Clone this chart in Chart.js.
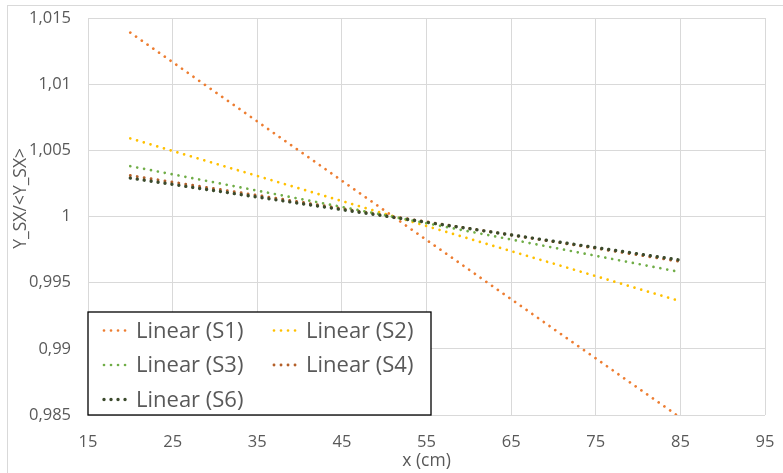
<!DOCTYPE html>
<html>
<head>
<meta charset="utf-8">
<script src="https://cdn.jsdelivr.net/npm/chart.js@4/dist/chart.umd.min.js"></script>
<style>
  html, body { margin: 0; padding: 0; background: #ffffff; }
  #frame { position: absolute; left: 7px; top: 5px; width: 900px; height: 600px;
           border-left: 1px solid #d9d9d9; border-top: 1px solid #d9d9d9; }
  #chart { position: absolute; left: 0; top: 0; }
</style>
</head>
<body>
<div id="frame"></div>
<canvas id="chart" width="783" height="473"></canvas>
<script>
// Linear trend lines of Y_SX/<Y_SX> against position x (cm), one per sensor
const xPoints = [20, 85];
const trendS1 = [1.0139, 0.9848];
const trendS2 = [1.0059, 0.9936];
const trendS3 = [1.0038, 0.9958];
const trendS4 = [1.0031, 0.9966];
const trendS6 = [1.0029, 0.9967];

const seriesNames = ['Linear (S1)', 'Linear (S2)', 'Linear (S3)', 'Linear (S4)', 'Linear (S6)'];
const seriesValues = [trendS1, trendS2, trendS3, trendS4, trendS6];
const seriesColors = ['#ed7d31', '#ffc000', '#70ad47', '#b4602a', '#3b4a2c'];
const seriesWidths = [2.7, 2.7, 2.7, 2.9, 3.4];
const seriesOrder = [3, 4, 1, 2, 0]; // lower order is painted on top

const xTicks = [15, 25, 35, 45, 55, 65, 75, 85, 95];
const yTicks = [0.985, 0.99, 0.995, 1, 1.005, 1.01, 1.015];

const fmt = v => String(Number(v.toFixed(3))).replace('.', ',');
const DOT_DASH = [0.01, 7];

const datasets = seriesNames.map((name, i) => ({
  label: name,
  data: xPoints.map((x, j) => ({ x: x, y: seriesValues[i][j] })),
  showLine: true,
  borderColor: seriesColors[i],
  backgroundColor: seriesColors[i],
  borderWidth: seriesWidths[i],
  borderDash: DOT_DASH,
  borderCapStyle: 'round',
  pointRadius: 0,
  order: seriesOrder[i]
}));

// Boxed legend sitting in the lower-left corner of the plot area
const boxedLegend = {
  id: 'boxedLegend',
  afterDraw(chart) {
    const ctx = chart.ctx;
    const area = chart.chartArea;
    const w = 343, h = 103;
    const left = area.left, top = area.bottom - h;
    ctx.save();
    ctx.fillStyle = '#ffffff';
    ctx.fillRect(left, top, w, h);
    ctx.strokeStyle = '#000000';
    ctx.lineWidth = 1.3;
    ctx.strokeRect(left, top, w, h);
    ctx.font = "22px 'Open Sans'";
    ctx.textBaseline = 'middle';
    chart.data.datasets.forEach((ds, i) => {
      const col = i % 2, row = Math.floor(i / 2);
      const sx = left + 15 + col * 170;
      const sy = top + 18.5 + row * 34.5;
      ctx.beginPath();
      ctx.setLineDash(ds.borderDash);
      ctx.lineCap = 'round';
      ctx.lineWidth = ds.borderWidth;
      ctx.strokeStyle = ds.borderColor;
      ctx.moveTo(sx + 1, sy);
      ctx.lineTo(sx + 27, sy);
      ctx.stroke();
      ctx.setLineDash([]);
      ctx.fillStyle = '#595959';
      ctx.fillText(ds.label, sx + 33, sy + 1);
    });
    ctx.restore();
  }
};

Chart.defaults.font.family = "'Open Sans'";
Chart.defaults.color = '#595959';

new Chart(document.getElementById('chart'), {
  type: 'scatter',
  data: { datasets: datasets },
  options: {
    responsive: false,
    devicePixelRatio: 1,
    animation: false,
    layout: { padding: { left: 0, top: 18, right: 18, bottom: 0 } },
    plugins: { legend: { display: false }, tooltip: { enabled: false } },
    scales: {
      x: {
        type: 'linear',
        min: xTicks[0],
        max: xTicks[xTicks.length - 1],
        afterBuildTicks: s => { s.ticks = xTicks.map(v => ({ value: v })); },
        afterFit: s => { s.height = 58; s.paddingLeft = 0; s.paddingRight = 0; },
        ticks: { font: { size: 16.5 }, padding: 17, maxRotation: 0, callback: v => fmt(v) },
        grid: { color: '#d9d9d9', drawTicks: false },
        border: { display: false },
        title: { display: true, text: 'x (cm)', font: { size: 17.5 }, padding: { top: 0, bottom: 1 } }
      },
      y: {
        type: 'linear',
        min: yTicks[0],
        max: yTicks[yTicks.length - 1],
        afterBuildTicks: s => { s.ticks = yTicks.map(v => ({ value: v })); },
        afterFit: s => { s.width = 88; s.paddingTop = 0; s.paddingBottom = 0; },
        ticks: { font: { size: 16.5 }, padding: 17, callback: v => fmt(v) },
        grid: { color: '#d9d9d9', drawTicks: false },
        border: { display: false },
        // leading spaces lift the rotated title a little above the axis centre
        title: { display: true, text: '        Y_SX/<Y_SX>', font: { size: 17.5 }, padding: { top: 11, bottom: 0 } }
      }
    }
  },
  plugins: [boxedLegend]
});
</script>
</body>
</html>
